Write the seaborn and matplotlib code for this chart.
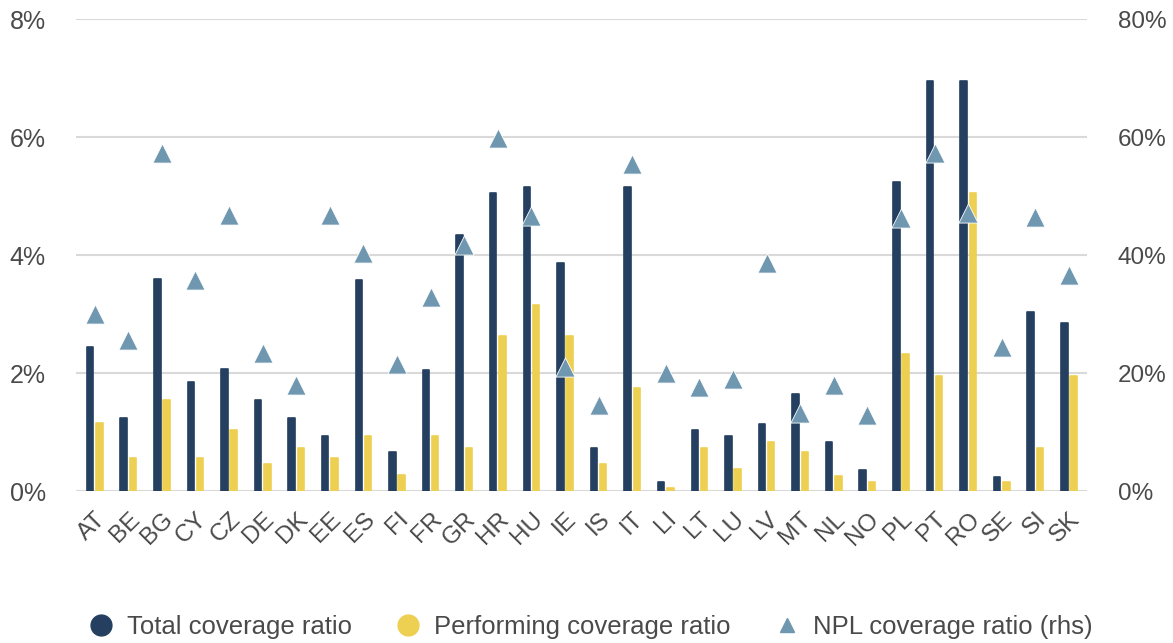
import numpy as np
import pandas as pd
import matplotlib
matplotlib.use("Agg")
import matplotlib.pyplot as plt
from matplotlib.lines import Line2D
import seaborn as sns

countries = ["AT", "BE", "BG", "CY", "CZ", "DE", "DK", "EE", "ES", "FI", "FR", "GR", "HR", "HU", "IE",
             "IS", "IT", "LI", "LT", "LU", "LV", "MT", "NL", "NO", "PL", "PT", "RO", "SE", "SI", "SK"]
total_cov = [2.45, 1.25, 3.6, 1.86, 2.07, 1.55, 1.25, 0.94, 3.58, 0.66, 2.06, 4.35, 5.05, 5.15, 3.87,
             0.73, 5.15, 0.15, 1.04, 0.94, 1.14, 1.65, 0.83, 0.36, 5.25, 6.95, 6.95, 0.25, 3.04, 2.85]
perf_cov = [1.15, 0.57, 1.55, 0.57, 1.04, 0.47, 0.74, 0.57, 0.94, 0.27, 0.94, 0.74, 2.64, 3.15, 2.64,
            0.47, 1.75, 0.06, 0.74, 0.37, 0.83, 0.66, 0.26, 0.16, 2.33, 1.96, 5.05, 0.16, 0.74, 1.96]
npl_cov = [30.0, 25.6, 57.3, 35.8, 46.9, 23.5, 18.0, 46.9, 40.4, 21.5, 33.0, 41.8, 59.8, 46.6, 21.1,
           14.7, 55.4, 20.0, 17.7, 19.1, 38.7, 13.3, 18.0, 13.0, 46.4, 57.3, 47.2, 24.5, 46.5, 36.7]

labels_total = "Total coverage ratio"
labels_perf = "Performing coverage ratio"
labels_npl = "NPL coverage ratio (rhs)"
n = len(countries)

navy = "#243F5F"
yellow = "#EDCF52"
steel = "#7097B0"
txt = "#4A4A4A"
grid = "#D9D9D9"

df = pd.DataFrame({
    "country": countries * 2,
    "value": total_cov + perf_cov,
    "series": [labels_total] * n + [labels_perf] * n,
})

sns.set_theme(style="white")
plt.rcParams["font.family"] = ["Liberation Sans", "DejaVu Sans"]

fig = plt.figure(figsize=(11.73, 6.43), dpi=100)
ax = fig.add_axes([0.065, 0.236, 0.862, 0.734])

sns.barplot(data=df, x="country", y="value", hue="series", order=countries,
            palette=[navy, yellow], width=0.55, gap=0.3, ax=ax,
            legend=False, errorbar=None, saturation=1)
for p in ax.patches:
    p.set_edgecolor(p.get_facecolor())
    p.set_linewidth(1.2)
    p.set_joinstyle("round")

ax.set_ylim(0, 8)
ax.set_yticks([0, 2, 4, 6, 8])
ax.set_yticklabels([f"{v}%" for v in [0, 2, 4, 6, 8]], fontsize=18, color=txt)
ax.yaxis.grid(True, color=grid, linewidth=1.5)
ax.set_axisbelow(True)
for s in ax.spines.values():
    s.set_visible(False)
ax.tick_params(axis="y", length=0, pad=22)
ax.tick_params(axis="x", length=0, pad=12)
ax.set_xlabel("")
ax.set_ylabel("")
ax.set_xlim(-0.55, n - 0.45)
for lab in ax.get_xticklabels():
    lab.set_rotation(45)
    lab.set_ha("right")
    lab.set_rotation_mode("anchor")
    lab.set_fontsize(17.5)
    lab.set_color(txt)

ax2 = ax.twinx()
sns.scatterplot(x=countries, y=npl_cov, marker="^", s=190, color=steel, edgecolor="white",
                linewidth=0.6, ax=ax2, zorder=5)
ax2.set_ylim(0, 80)
ax2.set_yticks([0, 20, 40, 60, 80])
ax2.set_yticklabels([f"{v}%" for v in [0, 20, 40, 60, 80]], fontsize=17.5, color=txt)
ax2.tick_params(axis="y", length=0, pad=22)
for s in ax2.spines.values():
    s.set_visible(False)
ax2.grid(False)
ax2.set_ylabel("")
ax2.set_xlim(-0.55, n - 0.45)

handles = [
    Line2D([], [], marker="o", linestyle="none", color=navy, markersize=15),
    Line2D([], [], marker="o", linestyle="none", color=yellow, markersize=15),
    Line2D([], [], marker="^", linestyle="none", color=steel, markersize=10),
]
fig.legend(handles, [labels_total, labels_perf, labels_npl], loc="center",
           bbox_to_anchor=(0.502, 0.025), ncol=3, frameon=False, fontsize=18.5,
           handlelength=1.2, handletextpad=0.4, columnspacing=1.6, labelcolor=txt)

fig.savefig("out.png", dpi=100)
